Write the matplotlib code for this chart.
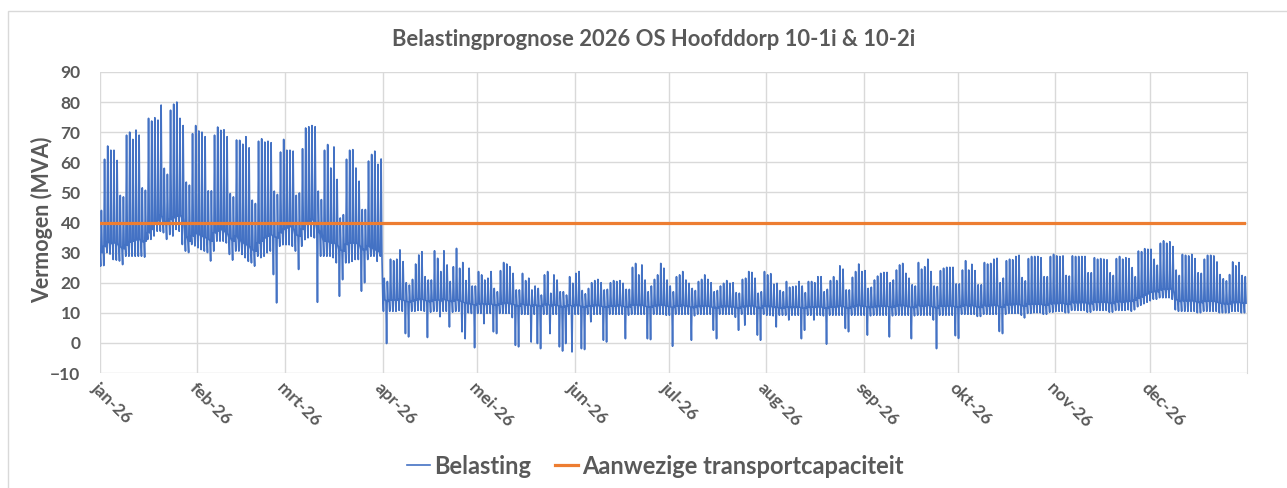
import numpy as np
import pandas as pd
import matplotlib
matplotlib.use('Agg')
import matplotlib.pyplot as plt
import matplotlib.dates as mdates
from matplotlib.patches import Rectangle

# Dagwaarden (MVA), 1 waarde per dag van 2026
# piek = hoogste waarde van de dag, basis = nachtniveau, dal = laagste waarde
piek_jan = [44.0, 61.0, 65.4, 64.0, 64.0, 60.6, 49.0, 48.5, 69.0, 70.0, 67.6, 70.7, 69.0, 51.5, 50.7, 74.6,
            73.7, 74.8, 74.0, 79.0, 58.0, 56.0, 77.3, 79.3, 80.0, 74.6, 72.2, 53.4, 52.4, 69.5, 72.2]
piek_feb = [70.4, 70.0, 68.5, 50.5, 50.5, 69.0, 71.7, 70.6, 70.8, 68.5, 49.6, 48.5, 67.4, 67.3, 66.0, 68.5,
            64.8, 47.4, 46.3, 67.0, 67.8, 66.7, 67.0, 66.5, 50.4, 49.3, 63.4, 67.6]
piek_mrt = [64.0, 64.0, 63.7, 49.0, 49.8, 64.5, 71.4, 71.8, 72.2, 71.8, 50.4, 47.6, 64.0, 65.9, 58.1, 65.1,
            54.3, 41.5, 42.6, 61.0, 64.0, 64.2, 58.1, 53.7, 44.3, 44.3, 60.4, 62.6, 63.7, 59.3, 61.1]
piek_apr = [21.5, 20.4, 27.8, 27.3, 27.8, 30.9, 27.0, 20.0, 19.2, 21.1, 26.2, 29.2, 30.3, 22.0, 20.9, 20.9,
            30.6, 28.1, 23.7, 30.6, 25.9, 20.4, 25.3, 31.4, 24.8, 26.7, 20.7, 24.8, 18.9, 18.9]
piek_mei = [23.7, 22.6, 20.9, 21.5, 23.7, 18.1, 17.0, 24.0, 26.7, 26.2, 25.3, 23.1, 17.6, 17.6, 23.1, 20.7,
            21.5, 17.6, 18.9, 18.1, 15.9, 22.6, 23.7, 16.5, 22.6, 20.9, 17.0, 17.0, 15.9, 22.0, 19.8]
piek_jun = [23.1, 23.7, 17.4, 16.3, 18.1, 20.0, 20.7, 21.1, 20.0, 17.6, 17.8, 20.0, 20.7, 20.4, 20.7, 19.8,
            17.8, 17.8, 25.1, 26.4, 22.6, 25.9, 20.9, 17.0, 18.9, 21.1, 22.6, 26.4, 24.8, 20.9]
piek_jul = [18.9, 17.0, 22.0, 22.6, 23.7, 20.9, 19.8, 18.1, 17.4, 20.4, 21.1, 22.6, 21.1, 20.0, 17.0, 17.4,
            18.9, 19.8, 20.7, 19.8, 20.0, 16.7, 16.5, 21.1, 21.5, 23.7, 23.4, 21.5, 16.5, 17.0, 23.7]
piek_aug = [22.6, 23.0, 19.5, 19.8, 17.4, 17.0, 20.4, 18.5, 18.7, 18.9, 20.4, 18.9, 16.7, 20.4, 20.4, 20.0,
            22.0, 22.0, 17.0, 17.8, 20.7, 22.0, 20.7, 25.6, 24.5, 17.6, 17.6, 21.8, 23.7, 26.2, 23.7]
piek_sep = [24.0, 18.1, 18.5, 20.9, 22.2, 23.1, 23.4, 23.4, 20.0, 20.9, 24.2, 25.9, 26.4, 23.1, 21.5, 19.3,
            18.9, 26.7, 24.5, 25.3, 27.8, 23.7, 18.9, 18.7, 24.0, 24.8, 25.1, 25.1, 25.1, 19.6]
piek_okt = [19.6, 24.2, 27.3, 24.2, 26.1, 24.0, 19.3, 19.3, 26.7, 26.2, 26.4, 27.8, 28.1, 20.0, 21.5, 27.3,
            27.8, 27.6, 28.7, 29.1, 21.7, 20.6, 28.0, 28.7, 28.7, 28.7, 28.3, 22.0, 22.0, 28.7, 29.4]
piek_nov = [28.9, 28.7, 28.9, 22.4, 22.2, 28.9, 28.7, 28.7, 28.7, 28.7, 23.3, 23.3, 28.3, 27.8, 28.0, 27.8,
            27.6, 23.3, 22.4, 28.0, 28.7, 27.8, 28.3, 28.0, 25.0, 22.0, 30.5, 30.3, 31.3, 31.1]
piek_dec = [31.1, 27.8, 25.8, 33.1, 33.9, 33.1, 33.6, 32.0, 24.2, 22.4, 29.4, 29.1, 28.9, 29.4, 28.0, 23.3,
            23.1, 27.8, 29.1, 29.1, 28.9, 26.9, 22.7, 21.3, 20.6, 22.7, 26.9, 25.6, 26.7, 22.4, 22.0]

basis_jan = [30.0, 32.0, 33.5, 33.0, 33.2, 33.0, 32.0, 31.3, 32.4, 33.5, 33.8, 34.2, 34.6, 33.6, 33.8, 36.6,
             37.7, 39.4, 40.5, 42.3, 40.5, 39.4, 41.0, 41.6, 42.1, 42.3, 41.6, 35.5, 33.8, 35.5, 36.4]
basis_feb = [36.0, 35.5, 35.0, 34.6, 33.8, 36.6, 37.2, 37.7, 37.2, 36.4, 35.0, 33.8, 35.5, 34.3, 33.2, 32.7,
             32.1, 31.0, 30.5, 33.2, 33.8, 34.9, 35.4, 36.0, 35.4, 34.9, 36.6, 37.7]
basis_mrt = [38.2, 38.8, 38.2, 36.0, 35.4, 37.7, 39.9, 40.4, 41.0, 40.4, 37.7, 36.0, 33.8, 33.8, 33.2, 33.2,
             32.7, 31.0, 30.5, 32.7, 33.2, 33.2, 33.2, 32.7, 31.0, 31.0, 32.1, 31.6, 31.0, 30.5, 29.9]
basis_apr = [14.5, 13.8, 14.2, 14.3, 14.2, 14.5, 14.3, 13.8, 13.6, 14.0, 14.2, 14.4, 14.5, 14.2, 13.8, 13.8,
             14.2, 14.3, 14.0, 14.4, 14.2, 13.8, 13.9, 14.3, 14.0, 13.6, 13.2, 13.0, 12.8, 12.6]
basis_mei = [13.0, 13.0, 12.8, 12.9, 13.0, 12.6, 12.5, 12.9, 13.1, 13.2, 13.0, 12.9, 12.4, 12.3, 12.8, 12.6,
             12.7, 12.3, 12.5, 12.4, 12.2, 12.7, 12.8, 12.4, 12.6, 12.5, 12.1, 12.0, 12.2, 12.5, 12.2]
basis_jun = [12.4, 12.5, 12.0, 11.9, 12.2, 12.3, 12.4, 12.4, 12.3, 11.9, 11.9, 12.2, 12.3, 12.3, 12.4, 12.2,
             11.9, 12.0, 12.5, 12.6, 12.4, 12.5, 12.3, 11.9, 11.9, 12.3, 12.4, 12.6, 12.5, 12.2]
basis_jul = [12.0, 11.8, 12.2, 12.3, 12.4, 12.2, 12.1, 11.8, 11.8, 12.1, 12.2, 12.3, 12.2, 12.0, 11.7, 11.7,
             12.0, 12.1, 12.1, 12.0, 12.0, 11.7, 11.6, 12.0, 12.1, 12.3, 12.3, 12.1, 11.7, 11.7, 12.2]
basis_aug = [12.1, 12.1, 11.8, 11.8, 11.6, 11.6, 11.9, 11.8, 11.8, 11.8, 11.9, 11.7, 11.5, 11.8, 11.9, 11.9,
             12.0, 12.0, 11.6, 11.5, 11.9, 12.0, 12.0, 12.3, 12.2, 11.7, 11.6, 12.0, 12.2, 12.4, 12.2]
basis_sep = [12.2, 11.8, 11.8, 12.0, 12.1, 12.2, 12.2, 12.2, 11.9, 11.9, 12.2, 12.4, 12.4, 12.2, 12.0, 11.8,
             11.8, 12.4, 12.3, 12.3, 12.5, 12.2, 11.8, 11.7, 12.2, 12.3, 12.3, 12.3, 12.3, 11.9]
basis_okt = [11.9, 12.2, 12.5, 12.2, 12.4, 12.2, 11.8, 11.8, 12.4, 12.3, 12.4, 12.5, 12.5, 11.9, 11.9, 12.6,
             12.7, 12.7, 12.8, 12.8, 12.3, 12.2, 12.8, 12.9, 12.9, 12.9, 12.9, 12.5, 12.5, 13.0, 13.1]
basis_nov = [13.1, 13.2, 13.2, 12.8, 12.8, 13.4, 13.4, 13.4, 13.4, 13.4, 13.0, 13.0, 13.5, 13.5, 13.5, 13.5,
             13.5, 13.1, 13.1, 13.6, 13.7, 13.6, 13.7, 13.8, 13.8, 14.2, 14.8, 15.3, 15.8, 16.3]
basis_dec = [16.8, 17.0, 17.0, 17.6, 17.8, 17.8, 17.9, 17.6, 14.5, 13.8, 14.0, 14.0, 14.0, 14.0, 13.9, 13.4,
             13.4, 13.8, 13.9, 13.9, 13.8, 13.6, 13.2, 13.0, 13.0, 13.0, 13.4, 13.4, 13.5, 13.2, 13.2]

dal_jan = [25.5, 25.7, 30.0, 29.5, 27.7, 27.5, 27.2, 26.0, 28.8, 28.8, 28.8, 28.8, 28.8, 28.8, 28.5, 34.4,
           34.4, 35.5, 37.1, 37.1, 36.6, 34.4, 36.0, 35.5, 37.7, 37.1, 32.7, 30.5, 30.0, 32.7, 32.2]
dal_feb = [31.6, 31.0, 30.5, 30.0, 27.2, 30.5, 33.8, 33.8, 33.8, 33.2, 29.4, 27.5, 30.5, 30.5, 29.4, 28.3,
           27.1, 26.6, 25.5, 28.8, 28.3, 28.8, 29.9, 30.5, 22.7, 13.3, 32.1, 32.6]
dal_mrt = [32.6, 32.6, 32.1, 30.5, 24.4, 32.1, 34.3, 34.9, 35.4, 34.9, 13.5, 28.8, 28.8, 28.8, 28.8, 28.3,
           26.6, 15.5, 21.0, 26.6, 26.6, 27.1, 27.7, 27.7, 17.2, 20.0, 27.7, 28.8, 28.8, 27.1, 28.8]
dal_apr = [10.5, -0.2, 10.5, 10.5, 10.5, 10.8, 10.5, 3.1, 2.0, 10.5, 10.5, 10.8, 10.8, 10.5, 1.8, 10.2,
           10.5, 10.5, 8.7, 10.5, 10.5, 5.3, 10.2, 10.5, 10.5, 3.7, 1.4, 10.0, 9.8, -1.6]
dal_mei = [9.8, 9.8, 6.4, 9.8, 9.8, 3.7, 3.1, 9.8, 9.8, 9.8, 9.8, 8.4, -0.8, -1.3, 9.5, 9.5,
           9.5, 0.3, 9.5, -0.2, -1.9, 9.5, 9.5, 3.1, 9.5, 9.5, -1.3, -2.7, -0.2, 9.5, -3.0]
dal_jun = [9.5, 9.5, -1.9, -2.2, 9.5, 7.0, 9.5, 9.5, 9.5, 0.9, 0.3, 9.5, 9.5, 9.5, 9.5, 9.5,
           1.4, 9.2, 9.5, 9.5, 9.5, 9.5, 9.5, 1.4, 1.1, 9.5, 9.5, 9.5, 9.5, 9.2]
dal_jul = [9.2, -1.1, 9.5, 9.5, 9.5, 9.5, 9.5, 0.9, 9.0, 9.5, 9.5, 9.5, 9.5, 9.5, 4.2, 1.4,
           9.5, 9.5, 9.5, 9.5, 9.5, 8.5, 4.2, 9.5, 5.9, 9.5, 9.5, 9.5, 2.6, 0.9, 9.5]
dal_aug = [9.2, 9.2, 9.0, 5.3, 9.2, 9.2, 9.2, 7.6, 9.2, 9.2, 9.2, 1.4, 4.2, 9.2, 9.2, 7.6,
           9.2, 9.2, 9.0, -0.4, 9.2, 9.2, 9.2, 9.2, 9.2, 4.8, 3.7, 9.2, 9.2, 9.2, 9.2]
dal_sep = [9.2, 2.6, 9.0, 9.2, 9.2, 9.2, 9.2, 9.2, 2.0, 9.0, 9.2, 9.2, 9.2, 9.2, 9.2, 1.4,
           9.0, 9.2, 9.2, 9.2, 9.2, 9.2, 7.6, -1.9, 9.2, 9.2, 9.2, 9.2, 9.2, 2.4]
dal_okt = [1.5, 9.5, 9.5, 9.5, 9.5, 9.5, 8.8, 8.8, 9.5, 9.5, 9.5, 9.5, 9.5, 3.8, 3.1, 9.5,
           9.8, 9.8, 9.8, 9.8, 9.2, 8.3, 9.8, 9.8, 10.0, 10.0, 10.0, 9.5, 9.5, 10.2, 10.2]
dal_nov = [10.5, 10.5, 10.5, 10.0, 10.0, 10.8, 10.8, 10.8, 10.8, 10.8, 10.2, 10.2, 10.8, 10.8, 10.8, 10.8,
           10.8, 10.2, 10.2, 10.8, 10.8, 10.8, 10.8, 11.0, 10.5, 11.0, 12.0, 12.5, 13.0, 13.5]
dal_dec = [14.0, 14.5, 14.5, 15.0, 15.0, 15.0, 15.0, 14.5, 11.0, 10.5, 10.5, 10.5, 10.5, 10.5, 10.5, 10.0,
           10.0, 10.5, 10.5, 10.5, 10.5, 10.5, 10.0, 10.0, 10.0, 10.0, 10.5, 10.5, 10.5, 10.0, 10.0]

capaciteit = 40.0  # aanwezige transportcapaciteit (MVA)

maand_labels = ['jan-26', 'feb-26', 'mrt-26', 'apr-26', 'mei-26', 'jun-26',
                'jul-26', 'aug-26', 'sep-26', 'okt-26', 'nov-26', 'dec-26']
titel = 'Belastingprognose 2026 OS Hoofddorp 10-1i & 10-2i'

piek = np.array(piek_jan + piek_feb + piek_mrt + piek_apr + piek_mei + piek_jun
                + piek_jul + piek_aug + piek_sep + piek_okt + piek_nov + piek_dec)
basis = np.array(basis_jan + basis_feb + basis_mrt + basis_apr + basis_mei + basis_jun
                 + basis_jul + basis_aug + basis_sep + basis_okt + basis_nov + basis_dec)
dal = np.array(dal_jan + dal_feb + dal_mrt + dal_apr + dal_mei + dal_jun
               + dal_jul + dal_aug + dal_sep + dal_okt + dal_nov + dal_dec)

dagen = pd.date_range('2026-01-01', periods=len(piek), freq='D')
t0 = mdates.date2num(dagen)

# per dag: basis -> dal -> piek -> basis
t = np.column_stack([t0, t0 + 0.2, t0 + 0.45, t0 + 0.7]).ravel()
y = np.column_stack([basis, dal, piek, basis]).ravel()

grijs = '#595959'
plt.rcParams['font.family'] = ['Lato', 'DejaVu Sans']

fig = plt.figure(figsize=(12.87, 4.88), dpi=100)
fig.patches.append(Rectangle((8 / 1287, -0.1), 1.1, 1.1 - 11 / 488, transform=fig.transFigure,
                             fill=False, edgecolor='#d9d9d9', linewidth=1.0))

ax = fig.add_axes([100 / 1287, 1 - 373 / 488, 1147 / 1287, 301 / 488])

ax.plot(t, y, color='#4472C4', linewidth=1.2, label='Belasting', zorder=3)
ax.plot(t0, np.full(len(t0), capaciteit), color='#ED7D31', linewidth=2.3,
        label='Aanwezige transportcapaciteit', zorder=4)

begin = mdates.date2num(pd.Timestamp('2026-01-01'))
eind = mdates.date2num(pd.Timestamp('2027-01-01'))
ax.set_xlim(begin, eind)
ax.set_ylim(-10, 90)
ax.set_yticks(np.arange(-10, 91, 10))

maanden = mdates.date2num(pd.date_range('2026-01-01', periods=12, freq='MS'))
ax.set_xticks(maanden)
ax.set_xticklabels(maand_labels, rotation=-45, ha='left', va='top', rotation_mode='anchor')

ax.grid(True, color='#d9d9d9', linewidth=1.0)
ax.set_axisbelow(True)
for kant in ['top', 'left', 'bottom']:
    ax.spines[kant].set_visible(False)
ax.spines['right'].set_color('#d9d9d9')
ax.tick_params(length=0, colors=grijs, labelsize=12.5)
ax.tick_params(axis='y', pad=14)
ax.tick_params(axis='x', pad=5)
for lbl in ax.get_xticklabels() + ax.get_yticklabels():
    lbl.set_fontweight('bold')

fig.text(42 / 1287, 1 - 220 / 488, 'Vermogen (MVA)', rotation=90, ha='center', va='center',
         color=grijs, fontsize=15.5, fontweight='bold')
fig.text(654 / 1287, 1 - 40 / 488, titel, ha='center', va='center',
         color=grijs, fontsize=15.8, fontweight='bold')

leg = fig.legend(loc='center', bbox_to_anchor=(655 / 1287, 1 - 466 / 488), ncol=2, frameon=False,
                 fontsize=17, handlelength=1.0, handletextpad=0.15, columnspacing=1.0)
for tekst in leg.get_texts():
    tekst.set_color(grijs)
    tekst.set_fontweight('bold')

fig.savefig('out.png', dpi=100)
